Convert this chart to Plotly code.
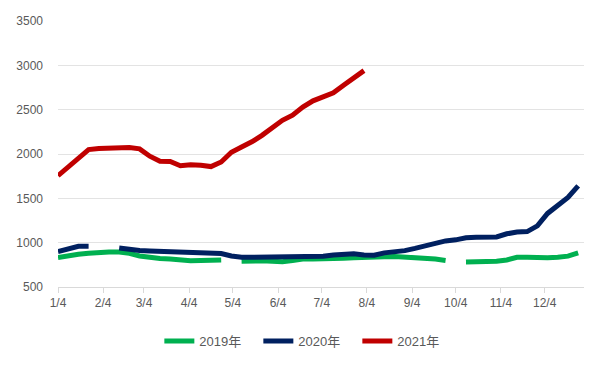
import datetime as dt
import plotly.graph_objects as go

# Weekly dates (common year axis)
start = dt.date(2021, 1, 4)
dates = [(start + dt.timedelta(days=7 * i)).isoformat() for i in range(52)]

tick_vals = [dt.date(2021, m, 4).isoformat() for m in range(1, 13)]
tick_text = [f"{m}/4" for m in range(1, 13)]

y2019 = [832, 855, 870, 880, 890, 895, 895, 880, 850, 830,
         822, 815, 805, 795, 800, 805, 805, None, 790, 795,
         795, 790, 785, 800, 815, 815, 815, 818, 825, 830,
         830, 828, 840, 845, 840, 830, 825, 815, 800, None,
         782, 782, 782, 790, 805, 835, 835, 828, 830, 835,
         848, 884]

y2020 = [900, 930, 960, 960, None, None, 940, 922, 912, 906,
         903, 898, 895, 895, 890, 888, 878, 850, 835, 835,
         835, 835, 835, 835, 835, 838, 846, 860, 870, 875,
         862, 858, 885, 893, 910, 935, 965, 995, 1020, 1032,
         1055, 1062, 1062, 1065, 1100, 1120, 1125, 1190, 1330, 1420,
         1510, 1640]

y2021 = [1755, 1858, 1956, 2050, 2062, 2068, 2072, 2072, 2058, 1975,
         1918, 1915, 1868, 1880, 1872, 1858, 1910, 2020, 2080, 2137,
         2210, 2300, 2380, 2438, 2530, 2600, 2645, 2690, 2776, 2852,
         2940]

series = [
    ("2019年", y2019, "#00B050"),
    ("2020年", y2020, "#002060"),
    ("2021年", y2021, "#C00000"),
]

fig = go.Figure()
for name, ys, color in series:
    fig.add_trace(go.Scatter(
        x=dates[:len(ys)], y=ys, name=name, mode="lines",
        connectgaps=False,
        line=dict(color=color, width=5),
    ))

font_family = "Liberation Sans, Arial, Noto Sans CJK SC, sans-serif"

# page body has an 8px default margin; size the figure to fit inside it
fig.update_layout(
    width=588, height=349,
    margin=dict(l=50, r=12, t=13, b=70, autoexpand=False),
    paper_bgcolor="white", plot_bgcolor="white",
    font=dict(family=font_family, size=12, color="#595959"),
    showlegend=True,
    legend=dict(
        orientation="h", x=0.475, xanchor="center", y=-0.203, yanchor="middle",
        font=dict(size=13, color="#595959"),
        itemwidth=30, tracegroupgap=0,
        entrywidth=54, entrywidthmode="pixels",
    ),
    xaxis=dict(
        type="date", automargin=False,
        range=["2021-01-04", "2021-12-31"],
        tickmode="array", tickvals=tick_vals, ticktext=tick_text,
        showgrid=False, showline=True, linecolor="#d9d9d9", linewidth=1,
        ticks="outside", ticklen=5, tickcolor="#d9d9d9",
        tickfont=dict(size=12, color="#595959"),
        zeroline=False,
    ),
    yaxis=dict(
        range=[500, 3500], dtick=500, tick0=500, automargin=False,
        showgrid=True, gridcolor="#e3e3e3", gridwidth=1,
        showline=False, zeroline=False, ticks="",
        ticklabelstandoff=14,
        tickfont=dict(size=12, color="#595959"),
    ),
)

fig.write_html("out.html")
